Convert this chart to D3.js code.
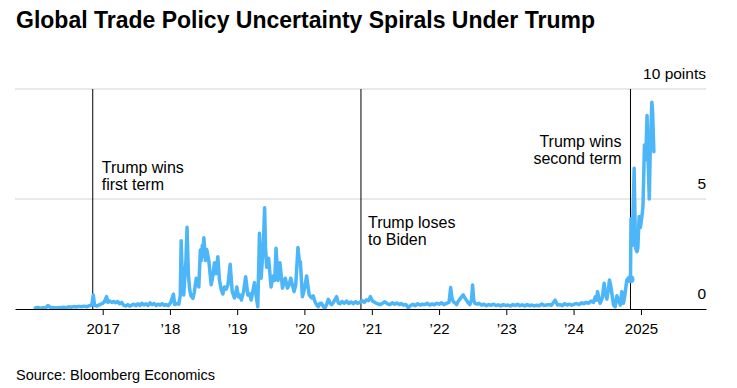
<!DOCTYPE html>
<html>
<head>
<meta charset="utf-8">
<script src="https://cdn.jsdelivr.net/npm/d3@7"></script>
<style>
  body { margin: 0; background: #fff; font-family: "Liberation Sans", Arial, sans-serif; }
  svg text { fill: #000; }
</style>
</head>
<body>
<script>
// Trade policy uncertainty index
const uncertainty = [
  ["2016-01-01",0.05],["2016-01-15",0.07],["2016-01-29",0.04],["2016-02-12",0.06],["2016-02-26",0.05],["2016-03-10",0.16],["2016-03-24",0.06],["2016-04-07",0.07],["2016-04-21",0.05],["2016-05-05",0.07],["2016-05-19",0.06],["2016-06-02",0.08],["2016-06-16",0.06],["2016-06-30",0.10],["2016-07-14",0.08],["2016-07-28",0.11],["2016-08-11",0.09],["2016-08-25",0.12],["2016-09-08",0.10],["2016-09-22",0.13],["2016-10-06",0.10],["2016-10-20",0.15],["2016-11-03",0.18],["2016-11-11",0.64],["2016-11-18",0.16],["2016-12-02",0.14],["2016-12-16",0.20],["2016-12-30",0.25],
  ["2017-01-10",0.32],["2017-01-22",0.56],["2017-01-29",0.30],["2017-02-08",0.36],["2017-02-19",0.30],["2017-03-01",0.34],["2017-03-12",0.28],["2017-03-23",0.34],["2017-04-03",0.24],["2017-04-14",0.30],["2017-04-25",0.17],["2017-05-06",0.14],["2017-05-17",0.20],["2017-05-28",0.13],["2017-06-08",0.18],["2017-06-19",0.22],["2017-06-30",0.15],["2017-07-11",0.24],["2017-07-22",0.16],["2017-08-02",0.26],["2017-08-13",0.18],["2017-08-24",0.24],["2017-09-04",0.16],["2017-09-15",0.28],["2017-09-26",0.20],["2017-10-07",0.25],["2017-10-18",0.16],["2017-10-29",0.22],["2017-11-09",0.18],["2017-11-20",0.24],["2017-12-01",0.17],["2017-12-12",0.20],["2017-12-23",0.15],
  ["2018-01-06",0.30],["2018-01-20",0.67],["2018-01-27",0.20],["2018-02-08",0.25],["2018-02-18",0.22],["2018-02-26",0.60],["2018-03-03",3.10],["2018-03-10",1.20],["2018-03-17",0.64],["2018-03-24",1.60],["2018-03-29",2.20],["2018-04-04",3.72],["2018-04-11",1.60],["2018-04-18",0.90],["2018-04-25",0.60],["2018-05-06",0.48],["2018-05-13",0.75],["2018-05-24",1.40],["2018-06-01",1.10],["2018-06-07",1.00],["2018-06-15",2.68],["2018-06-20",2.20],["2018-06-26",2.90],["2018-06-30",2.40],["2018-07-04",3.24],["2018-07-13",2.20],["2018-07-20",2.70],["2018-07-31",2.20],["2018-08-07",1.60],["2018-08-13",1.10],["2018-08-22",1.50],["2018-08-31",2.10],["2018-09-08",1.60],["2018-09-18",2.38],["2018-09-27",1.30],["2018-10-06",0.90],["2018-10-15",0.68],["2018-10-24",1.00],["2018-11-02",0.90],["2018-11-12",1.10],["2018-11-24",2.03],["2018-12-05",0.80],["2018-12-17",0.50],["2018-12-24",0.70],["2018-12-30",1.00],
  ["2019-01-08",0.55],["2019-01-15",0.64],["2019-01-24",0.41],["2019-02-05",0.79],["2019-02-16",1.47],["2019-02-28",0.64],["2019-03-09",0.70],["2019-03-18",0.41],["2019-03-27",0.80],["2019-04-05",1.20],["2019-04-14",0.60],["2019-04-23",0.10],["2019-05-02",3.44],["2019-05-11",1.40],["2019-05-23",2.90],["2019-05-30",4.60],["2019-06-04",2.80],["2019-06-10",1.90],["2019-06-21",2.30],["2019-07-04",1.00],["2019-07-16",1.50],["2019-07-24",1.30],["2019-07-31",2.76],["2019-08-11",1.30],["2019-08-21",2.10],["2019-09-04",0.95],["2019-09-19",1.40],["2019-10-01",0.95],["2019-10-10",1.10],["2019-10-19",1.40],["2019-11-06",0.79],["2019-11-15",1.10],["2019-11-27",2.80],["2019-12-04",2.20],["2019-12-10",2.15],["2019-12-21",0.56],
  ["2020-01-01",0.90],["2020-01-13",1.50],["2020-01-27",0.64],["2020-02-09",0.50],["2020-02-18",0.60],["2020-02-27",0.33],["2020-03-07",0.20],["2020-03-16",0.10],["2020-03-25",0.25],["2020-04-03",0.26],["2020-04-12",0.12],["2020-04-21",0.05],["2020-05-01",0.22],["2020-05-10",0.44],["2020-05-19",0.27],["2020-05-28",0.20],["2020-06-08",0.32],["2020-06-24",0.56],["2020-07-03",0.28],["2020-07-12",0.24],["2020-07-24",0.34],["2020-08-05",0.26],["2020-08-17",0.36],["2020-08-29",0.25],["2020-09-10",0.32],["2020-09-22",0.24],["2020-10-04",0.33],["2020-10-16",0.26],["2020-10-28",0.30],["2020-11-09",0.38],["2020-11-21",0.30],["2020-12-03",0.42],["2020-12-15",0.38],["2020-12-24",0.56],
  ["2021-01-05",0.36],["2021-01-20",0.28],["2021-02-01",0.24],["2021-02-15",0.20],["2021-02-28",0.26],["2021-03-13",0.33],["2021-03-26",0.24],["2021-04-09",0.20],["2021-04-22",0.28],["2021-05-05",0.22],["2021-05-16",0.27],["2021-05-30",0.20],["2021-06-10",0.25],["2021-06-21",0.18],["2021-07-05",0.20],["2021-07-18",0.06],["2021-07-30",0.16],["2021-08-12",0.22],["2021-08-25",0.15],["2021-09-07",0.24],["2021-09-20",0.18],["2021-10-03",0.22],["2021-10-16",0.20],["2021-10-29",0.26],["2021-11-11",0.18],["2021-11-24",0.23],["2021-12-07",0.19],["2021-12-20",0.26],
  ["2022-01-02",0.22],["2022-01-15",0.28],["2022-01-28",0.20],["2022-02-11",0.26],["2022-02-24",0.30],["2022-03-05",0.98],["2022-03-12",0.50],["2022-03-19",0.33],["2022-03-28",0.28],["2022-04-06",0.20],["2022-04-15",0.35],["2022-04-24",0.45],["2022-05-03",0.55],["2022-05-12",0.64],["2022-05-21",0.50],["2022-05-30",0.40],["2022-06-08",0.28],["2022-06-17",0.20],["2022-06-26",0.40],["2022-07-02",1.09],["2022-07-08",0.40],["2022-07-14",0.26],["2022-07-26",0.22],["2022-08-07",0.26],["2022-08-20",0.17],["2022-09-02",0.22],["2022-09-15",0.15],["2022-09-28",0.20],["2022-10-11",0.17],["2022-10-24",0.22],["2022-11-06",0.16],["2022-11-19",0.19],["2022-12-02",0.14],["2022-12-15",0.20],["2022-12-28",0.16],
  ["2023-01-10",0.18],["2023-01-23",0.14],["2023-02-05",0.20],["2023-02-18",0.16],["2023-03-03",0.22],["2023-03-16",0.15],["2023-03-29",0.19],["2023-04-11",0.14],["2023-04-24",0.20],["2023-05-07",0.15],["2023-05-20",0.18],["2023-06-02",0.14],["2023-06-15",0.17],["2023-06-28",0.15],["2023-07-13",0.23],["2023-07-26",0.16],["2023-08-08",0.18],["2023-08-21",0.20],["2023-09-03",0.17],["2023-09-23",0.40],["2023-10-06",0.18],["2023-10-19",0.20],["2023-11-01",0.15],["2023-11-14",0.24],["2023-11-27",0.18],["2023-12-10",0.22],["2023-12-23",0.17],
  ["2024-01-05",0.22],["2024-01-18",0.25],["2024-01-31",0.20],["2024-02-13",0.28],["2024-02-26",0.24],["2024-03-10",0.30],["2024-03-23",0.26],["2024-04-05",0.36],["2024-04-18",0.30],["2024-04-28",0.56],["2024-05-05",0.40],["2024-05-10",0.79],["2024-05-24",0.26],["2024-06-05",0.50],["2024-06-15",1.17],["2024-06-22",0.70],["2024-06-30",0.45],["2024-07-08",0.90],["2024-07-14",1.32],["2024-07-20",1.10],["2024-07-27",0.71],["2024-08-05",0.18],["2024-08-14",0.10],["2024-08-23",0.60],["2024-09-01",0.40],["2024-09-11",0.18],["2024-09-19",0.79],["2024-09-28",0.26],["2024-10-06",0.65],["2024-10-16",1.32],["2024-10-29",1.40],["2024-11-05",1.35],
  ["2024-11-08",4.10],["2024-11-15",2.90],["2024-11-25",6.40],["2024-12-02",2.80],["2024-12-10",2.60],["2024-12-15",2.76],["2024-12-22",4.20],["2024-12-29",3.70],["2025-01-06",4.20],["2025-01-12",4.70],["2025-01-20",7.45],["2025-01-27",6.80],["2025-02-03",8.80],["2025-02-08",7.00],["2025-02-15",5.00],["2025-02-20",7.10],["2025-03-01",9.40],["2025-03-05",9.00],["2025-03-12",7.15]
];

const events = [
  {date: "2016-11-08", label: ["Trump wins", "first term"]},
  {date: "2020-11-03", label: ["Trump loses", "to Biden"]},
  {date: "2024-11-05", label: ["Trump wins", "second term"]}
];

const highlightDate = "2024-11-05";

const xTickYears = [2017, 2018, 2019, 2020, 2021, 2022, 2023, 2024, 2025];
const yTicks = [0, 5, 10];
const yMax = 10;

const SVG_DIM = {W: 737, H: 388};
const PLOT = {LEFT: 15, RIGHT: 706, TOP: 89, BOTTOM: 309};
// label offsets relative to each event line: dx, baseline y, anchor
const LABEL_POS = [
  {dx: 9, y: 173, anchor: 'start'},
  {dx: 7, y: 228, anchor: 'start'},
  {dx: -9, y: 147, anchor: 'end'}
];
const LINE_COLOR = '#4cb6f8';

const parse = d3.timeParse('%Y-%m-%d');
const series = uncertainty.map(([d, v]) => ({date: parse(d), value: v}));

const svg = d3.select('body').append('svg')
    .attr('width', SVG_DIM.W)
    .attr('height', SVG_DIM.H);

// title
svg.append('text')
    .attr('x', 16)
    .attr('y', 28)
    .style('font-family', '"Liberation Sans Narrow", "Liberation Sans", Arial, sans-serif')
    .style('font-weight', 'bold')
    .style('font-size', '23px')
    .text('Global Trade Policy Uncertainty Spirals Under Trump');

const x = d3.scaleTime()
    .domain([parse('2015-09-13'), parse('2025-12-20')])
    .range([PLOT.LEFT, PLOT.RIGHT]);

const y = d3.scaleLinear()
    .domain([0, yMax])
    .range([PLOT.BOTTOM, PLOT.TOP]);

// gridlines
svg.append('g')
    .selectAll('line')
    .data(yTicks.filter(d => d > 0))
    .enter()
    .append('line')
    .attr('x1', PLOT.LEFT)
    .attr('x2', PLOT.RIGHT)
    .attr('y1', d => y(d))
    .attr('y2', d => y(d))
    .attr('stroke', '#e2e2e2')
    .attr('stroke-width', 1.5);

// y labels, sitting above their gridlines on the right
svg.append('g')
    .selectAll('text')
    .data(yTicks)
    .enter()
    .append('text')
    .attr('x', PLOT.RIGHT)
    .attr('y', d => y(d) - 10)
    .attr('text-anchor', 'end')
    .style('font-size', '15.5px')
    .text(d => d === yMax ? d + ' points' : d);

// event lines
svg.append('g')
    .selectAll('line')
    .data(events)
    .enter()
    .append('line')
    .attr('x1', d => x(parse(d.date)))
    .attr('x2', d => x(parse(d.date)))
    .attr('y1', PLOT.TOP)
    .attr('y2', PLOT.BOTTOM)
    .attr('stroke', '#000')
    .attr('stroke-width', 1);

// event labels
events.forEach((ev, i) => {
    const pos = LABEL_POS[i];
    const t = svg.append('text')
        .attr('text-anchor', pos.anchor)
        .style('font-size', '16px');
    ev.label.forEach((line, j) => {
        t.append('tspan')
            .attr('x', x(parse(ev.date)) + pos.dx)
            .attr('y', pos.y + j * 17)
            .text(line);
    });
});

// line
const line = d3.line()
    .x(d => x(d.date))
    .y(d => y(d.value));

svg.append('path')
    .datum(series)
    .attr('fill', 'none')
    .attr('stroke', LINE_COLOR)
    .attr('stroke-width', 3.5)
    .attr('stroke-linejoin', 'round')
    .attr('stroke-linecap', 'round')
    .attr('d', line);

const hl = series.find(d => +d.date === +parse(highlightDate));
svg.append('circle')
    .attr('cx', x(hl.date))
    .attr('cy', y(hl.value))
    .attr('r', 4)
    .attr('fill', LINE_COLOR);

// x axis
const xAxis = d3.axisBottom(x)
    .tickValues(xTickYears.map(yr => new Date(yr, 0, 1)))
    .tickFormat(d => {
        const yr = d.getFullYear();
        return (yr === 2017 || yr === 2025) ? yr : '\u2019' + String(yr).slice(2);
    })
    .tickSize(6)
    .tickSizeOuter(0)
    .tickPadding(8);

const axisG = svg.append('g')
    .attr('transform', 'translate(0,' + PLOT.BOTTOM + ')')
    .call(xAxis);

axisG.select('.domain')
    .attr('stroke', '#000')
    .attr('stroke-width', 1.2);
axisG.selectAll('.tick line').attr('stroke', '#000');
axisG.selectAll('.tick text')
    .style('font-family', '"Liberation Sans", Arial, sans-serif')
    .style('font-size', '15px')
    .attr('fill', '#000');

// source
svg.append('text')
    .attr('x', 16)
    .attr('y', 380)
    .style('font-size', '14.5px')
    .text('Source: Bloomberg Economics');
</script>
</body>
</html>
